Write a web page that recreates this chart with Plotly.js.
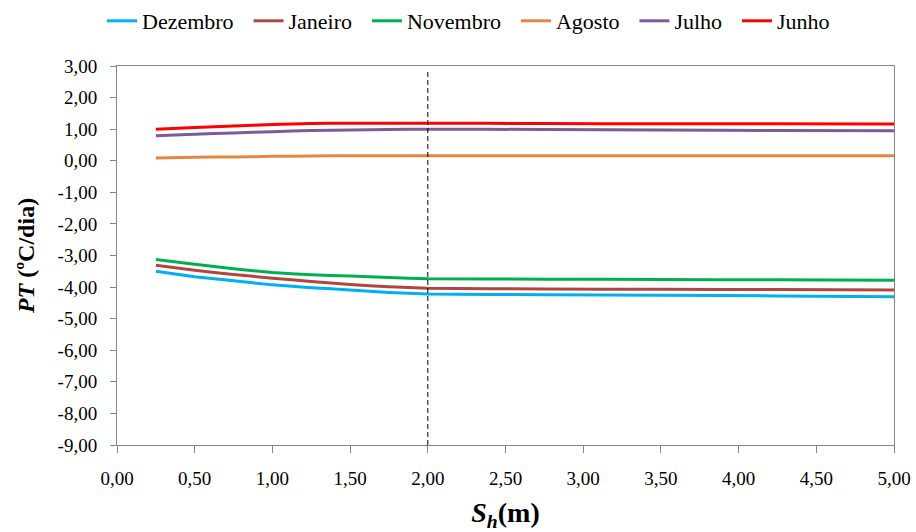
<!DOCTYPE html>
<html>
<head>
<meta charset="utf-8">
<script src="https://cdn.plot.ly/plotly-3.0.1.min.js"></script>
<style>html,body{margin:0;padding:0;background:#fff;}#chart{width:916px;height:532px;}</style>
</head>
<body>
<div id="chart"></div>
<script>
const sh = [0.25, 0.5, 0.75, 1.0, 1.25, 1.5, 1.75, 2.0, 2.75, 3.5, 4.25, 5.0];
const dezembro = [-3.50, -3.67, -3.80, -3.93, -4.02, -4.09, -4.17, -4.22, -4.24, -4.26, -4.28, -4.31];
const janeiro  = [-3.31, -3.47, -3.60, -3.72, -3.82, -3.92, -3.99, -4.04, -4.06, -4.07, -4.08, -4.09];
const novembro = [-3.13, -3.28, -3.42, -3.54, -3.61, -3.65, -3.70, -3.74, -3.75, -3.76, -3.77, -3.78];
const agosto   = [0.09, 0.11, 0.12, 0.14, 0.15, 0.16, 0.16, 0.16, 0.16, 0.16, 0.16, 0.16];
const julho    = [0.79, 0.84, 0.88, 0.92, 0.96, 0.97, 0.99, 1.00, 0.99, 0.97, 0.96, 0.95];
const junho    = [1.00, 1.05, 1.10, 1.15, 1.18, 1.19, 1.19, 1.19, 1.18, 1.17, 1.17, 1.16];
const seriesNames = ['Dezembro', 'Janeiro', 'Novembro', 'Agosto', 'Julho', 'Junho'];
const seriesData = [dezembro, janeiro, novembro, agosto, julho, junho];
const colors = ['#00B0F0', '#B0463F', '#00B050', '#E5873E', '#7A5C99', '#FF0000'];
const xTickVals = [0, 0.5, 1, 1.5, 2, 2.5, 3, 3.5, 4, 4.5, 5];
const xTickText = ['0,00','0,50','1,00','1,50','2,00','2,50','3,00','3,50','4,00','4,50','5,00'];
const yTickVals = [3, 2, 1, 0, -1, -2, -3, -4, -5, -6, -7, -8, -9];
const yTickText = ['3,00','2,00','1,00','0,00','-1,00','-2,00','-3,00','-4,00','-5,00','-6,00','-7,00','-8,00','-9,00'];
const refX = 2.0;

const FONT = 'Liberation Serif';
const PAD = '\u00a0\u2009';
const traces = seriesNames.map((n, i) => ({
  x: sh, y: seriesData[i], name: n + PAD, type: 'scatter', mode: 'lines',
  line: {color: colors[i], width: 3, shape: 'spline', smoothing: 0.3}
}));

const layout = {
  width: 916, height: 532,
  margin: {l: 117, r: 22, t: 66, b: 87},
  paper_bgcolor: '#fff', plot_bgcolor: '#fff',
  font: {family: FONT, color: '#000', size: 19},
  showlegend: true,
  legend: {orientation: 'h', xref: 'container', yref: 'container', x: 102/916, xanchor: 'left', y: 1, yanchor: 'top',
           font: {family: FONT, size: 22, color: '#000'}, itemwidth: 30, tracegroupgap: 0, traceorder: 'normal'},
  xaxis: {
    range: [0, 5], tickmode: 'array', tickvals: xTickVals, ticktext: xTickText,
    showgrid: false, zeroline: false, showline: true, linecolor: '#868686', linewidth: 1, mirror: true,
    ticks: 'outside', ticklen: 7, tickcolor: '#868686', ticklabelstandoff: 9,
    tickfont: {family: FONT, size: 19, color: '#000'},
    title: {text: '<b><i>S</i><sub><i>h</i></sub>(m)</b>', font: {family: FONT, size: 28, color: '#000'}, standoff: 19}
  },
  yaxis: {
    range: [-9, 3], tickmode: 'array', tickvals: yTickVals, ticktext: yTickText,
    showgrid: false, zeroline: false, showline: true, linecolor: '#868686', linewidth: 1, mirror: true,
    ticks: 'outside', ticklen: 6, tickcolor: '#868686', ticklabelstandoff: 9,
    tickfont: {family: FONT, size: 19, color: '#000'},
    title: {text: '<b><i>PT</i> (ºC/dia)</b>', font: {family: FONT, size: 24, color: '#000'}, standoff: 16}
  },
  shapes: [{type: 'line', xref: 'x', yref: 'y', x0: refX, x1: refX, y0: -9, y1: 2.9,
            line: {color: '#000', width: 1, dash: '5px,3px'}}]
};

Plotly.newPlot('chart', traces, layout, {displayModeBar: false, staticPlot: true});
</script>
</body>
</html>
